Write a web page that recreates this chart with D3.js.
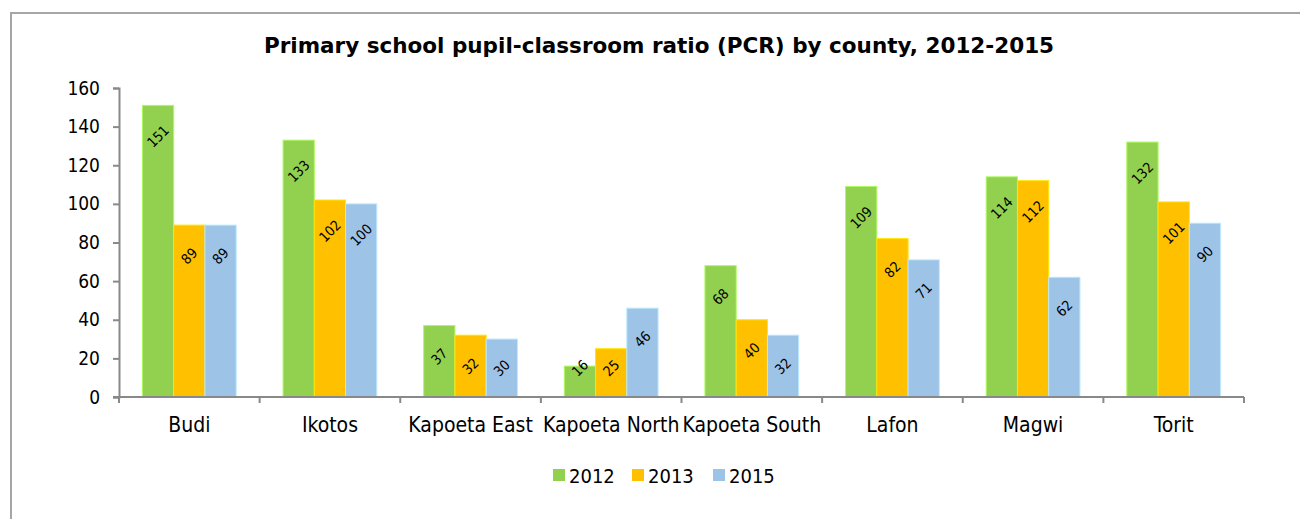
<!DOCTYPE html>
<html>
<head>
<meta charset="utf-8">
<script src="https://cdn.jsdelivr.net/npm/d3@7"></script>
<style>
  html, body { margin: 0; padding: 0; background: #fff; }
  svg { display: block; }
  text { font-family: "DejaVu Sans Condensed", "DejaVu Sans", sans-serif; font-stretch: condensed; fill: #000; }
</style>
</head>
<body>
<svg id="chart" width="1300" height="519"></svg>
<script>
// Pupil-classroom ratio per county
const counties = ["Budi", "Ikotos", "Kapoeta East", "Kapoeta North", "Kapoeta South", "Lafon", "Magwi", "Torit"];
const years = ["2012", "2013", "2015"];
const pcr2012 = [151, 133, 37, 16, 68, 109, 114, 132];
const pcr2013 = [89, 102, 32, 25, 40, 82, 112, 101];
const pcr2015 = [89, 100, 30, 46, 32, 71, 62, 90];
const yTicks = [0, 20, 40, 60, 80, 100, 120, 140, 160];
const colors = ["#92D050", "#FFC000", "#9DC3E6"];
const title = "Primary school pupil-classroom ratio (PCR) by county, 2012-2015";

const seriesValues = [pcr2012, pcr2013, pcr2015];
const rows = counties.map((c, i) => ({
  county: c,
  values: years.map((y, s) => ({ year: y, s, value: seriesValues[s][i] }))
}));

const svg = d3.select("#chart");
const axisColor = "#898989";

// outer chart frame (runs off the right and bottom edges)
svg.append("rect")
  .attr("x", 11).attr("y", 13)
  .attr("width", 1320).attr("height", 540)
  .attr("fill", "none")
  .attr("stroke", "#a6a6a6")
  .attr("stroke-width", 2);

const plot = { left: 119, right: 1244, top: 88, bottom: 397 };

const x = d3.scaleBand().domain(counties).range([plot.left, plot.right]).padding(0);
const B = x.bandwidth();
const x1 = d3.scaleBand().domain(years).range([B * 0.75 / 4.5, B * 3.75 / 4.5]).padding(0);
const y = d3.scaleLinear().domain([0, 160]).range([plot.bottom, plot.top]);

// title
svg.append("text")
  .attr("x", 659).attr("y", 53)
  .attr("text-anchor", "middle")
  .style("font-family", "\"DejaVu Sans\", sans-serif")
  .style("font-stretch", "normal")
  .style("font-size", "21.5px")
  .style("font-weight", "bold")
  .text(title);

// bars
const groups = svg.append("g").selectAll("g")
  .data(rows).join("g")
  .attr("transform", d => `translate(${x(d.county)},0)`);

groups.selectAll("rect")
  .data(d => d.values).join("rect")
  .attr("x", d => x1(d.year))
  .attr("y", d => y(d.value))
  .attr("width", x1.bandwidth())
  .attr("height", d => y(0) - y(d.value))
  .attr("fill", d => colors[d.s])
  .attr("stroke", d => d3.color(colors[d.s]).brighter(0.5))
  .attr("stroke-width", 1);

// value labels, rotated, near the top inside each bar
groups.selectAll("text.val")
  .data(d => d.values).join("text")
  .attr("class", "val")
  .attr("transform", d => {
    const cx = x1(d.year) + x1.bandwidth() / 2;
    const cy = Math.min(y(d.value) + 31, y(0) - 29);
    return `translate(${cx},${cy}) rotate(-45)`;
  })
  .attr("text-anchor", "middle")
  .attr("dy", "0.35em")
  .style("font-size", "14px")
  .text(d => d.value);

// y axis
const yAxis = svg.append("g")
  .attr("transform", `translate(${plot.left},0)`)
  .call(d3.axisLeft(y).tickValues(yTicks).tickSize(6).tickPadding(13).tickFormat(d3.format("d")));
yAxis.select(".domain").attr("stroke", axisColor).attr("stroke-width", 2);
yAxis.selectAll(".tick line").attr("stroke", axisColor).attr("stroke-width", 2);
yAxis.selectAll(".tick text").style("font-size", "19px").attr("fill", "#000")
  .style("font-family", "\"DejaVu Sans Condensed\", \"DejaVu Sans\", sans-serif");

// x axis with ticks at category boundaries
const xAxisG = svg.append("g").attr("transform", `translate(0,${plot.bottom})`);
xAxisG.append("line")
  .attr("x1", plot.left - 6).attr("x2", plot.right)
  .attr("y1", 0).attr("y2", 0)
  .attr("stroke", axisColor).attr("stroke-width", 2);
const bounds = counties.map(c => x(c)).concat([plot.right]);
xAxisG.selectAll("line.bt")
  .data(bounds).join("line")
  .attr("class", "bt")
  .attr("x1", d => d).attr("x2", d => d)
  .attr("y1", 0).attr("y2", 6)
  .attr("stroke", axisColor).attr("stroke-width", 2);
xAxisG.selectAll("text.cat")
  .data(counties).join("text")
  .attr("class", "cat")
  .attr("x", d => x(d) + B / 2)
  .attr("y", 35)
  .attr("text-anchor", "middle")
  .style("font-size", "21px")
  .text(d => d);

// legend
const legendX = [553, 632, 713];
const legend = svg.append("g").selectAll("g")
  .data(years).join("g")
  .attr("transform", (d, i) => `translate(${legendX[i]},469)`);
legend.append("rect")
  .attr("width", 12).attr("height", 12)
  .attr("fill", (d, i) => colors[i]);
legend.append("text")
  .attr("x", 16).attr("y", 13.5)
  .style("font-size", "20px")
  .text(d => d);
</script>
</body>
</html>
